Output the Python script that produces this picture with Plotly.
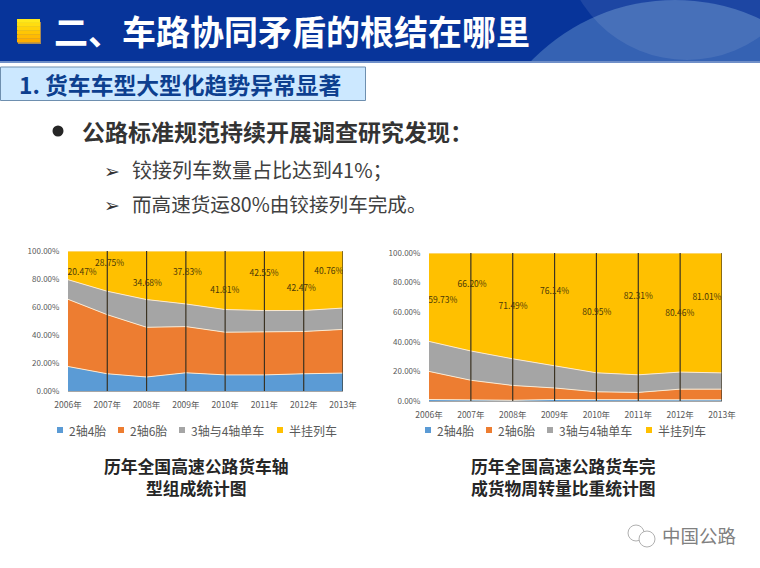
import plotly.graph_objects as go

W, H = 760, 568
FONT = "Noto Sans CJK SC"

years = [2006, 2007, 2008, 2009, 2010, 2011, 2012, 2013]
series_names = ["2轴4胎", "2轴6胎", "3轴与4轴单车", "半挂列车"]
series_colors = ["#5B9BD5", "#ED7D31", "#A5A5A5", "#FFC000"]
y_ticks = [0, 20, 40, 60, 80, 100]

left_s1 = [17.5, 12.3, 10.0, 13.0, 11.5, 11.5, 12.3, 12.8]
left_s2 = [48.0, 42.2, 35.5, 33.0, 30.5, 30.5, 30.2, 31.2]
left_s3 = [14.03, 16.75, 19.82, 16.17, 16.19, 15.45, 15.03, 15.24]
left_s4 = [20.47, 28.75, 34.68, 37.83, 41.81, 42.55, 42.47, 40.76]
left_label_x = [2006.36, 2007.06, 2008.02, 2009.04, 2009.99, 2010.99, 2011.94, 2012.64]
left_label_y = [84.7, 90.5, 76.8, 84.2, 71.8, 83.5, 72.8, 85.2]

right_s1 = [1.0, 0.8, 0.5, 1.0, 0.8, 0.7, 0.8, 0.8]
right_s2 = [19.0, 13.2, 10.0, 7.8, 5.4, 5.1, 7.2, 7.2]
right_s3 = [20.27, 19.8, 18.01, 15.06, 12.85, 11.89, 11.54, 10.99]
right_s4 = [59.73, 66.20, 71.49, 76.14, 80.95, 82.31, 80.46, 81.01]
right_label_x = [2006.33, 2007.03, 2008.01, 2009.0, 2010.01, 2011.0, 2011.99, 2012.64]
right_label_y = [67.9, 78.5, 63.3, 73.5, 59.3, 70.1, 59.0, 69.9]


def px(x):
    return x / W


def py(y):
    return 1 - y / H


fig = go.Figure()


def add_chart(xa, ya, data, label_x, label_y):
    for name, color, vals in zip(series_names, series_colors, data):
        fig.add_trace(go.Scatter(
            x=years, y=vals, name=name, mode="lines", stackgroup=xa,
            line=dict(color="#FBE9D0", width=1), fillcolor=color,
            xaxis=xa, yaxis=ya, showlegend=False, hoverinfo="x+y"))
    # dark vertical drop lines at each category
    vx, vy = [], []
    for yr in years[1:]:
        vx += [yr, yr, None]
        vy += [0, 100, None]
    fig.add_trace(go.Scatter(x=vx, y=vy, mode="lines", showlegend=False,
                             line=dict(color="#3A3222", width=1.2),
                             xaxis=xa, yaxis=ya, hoverinfo="skip"))
    fig.add_trace(go.Scatter(
        x=label_x, y=label_y, mode="text", showlegend=False,
        text=[f"{v:.2f}%" for v in data[3]], textposition="middle center",
        textfont=dict(family=FONT, size=8.5, color="#4A3808"),
        xaxis=xa, yaxis=ya, hoverinfo="skip"))


add_chart("x", "y", [left_s1, left_s2, left_s3, left_s4], left_label_x, left_label_y)
add_chart("x2", "y2", [right_s1, right_s2, right_s3, right_s4], right_label_x, right_label_y)

xcommon = dict(range=[2006, 2013], tickvals=years, ticktext=[f"{y}年" for y in years],
               showgrid=False, zeroline=False, showline=True, linecolor="#A6A6A6",
               linewidth=1, ticks="outside", ticklen=6, tickcolor="rgba(0,0,0,0)",
               automargin=False, tickfont=dict(family=FONT, size=8.5, color="#595959"))
ycommon = dict(range=[0, 100], tickvals=y_ticks, ticktext=[f"{v:.2f}%" for v in y_ticks],
               showgrid=False, zeroline=False, showline=False,
               ticks="outside", ticklen=6, tickcolor="rgba(0,0,0,0)",
               automargin=False, tickfont=dict(family=FONT, size=8, color="#595959"))

shapes = []


def rect(x0, y0, x1, y1, fill, line=None, lw=0):
    shapes.append(dict(type="rect", xref="paper", yref="paper", layer="below",
                       x0=px(x0), x1=px(x1), y0=py(y0), y1=py(y1), fillcolor=fill,
                       line=dict(color=line or fill, width=lw)))


def circle(cx, cy, r, fill, opacity=1.0, line=None, lw=0, layer="below"):
    shapes.append(dict(type="circle", xref="paper", yref="paper", layer=layer,
                       x0=px(cx - r), x1=px(cx + r), y0=py(cy - r), y1=py(cy + r),
                       fillcolor=fill, opacity=opacity,
                       line=dict(color=line or "rgba(0,0,0,0)", width=lw)))


# Header band with decorative arcs
rect(0, 0, W, 61, "#07349A")
circle(675, 200, 200, "#3562B3")
circle(687, -65, 125, "#FFFFFF", opacity=0.09)
rect(0, 61, W, 63, "#6F8FC8")
rect(0, 63, W, 420, "#FFFFFF")

# Yellow gradient square
band_cols = ["#FFE81A", "#FFDD10", "#FFD208", "#FFC604", "#FFBA02", "#FFAE00"]
rect(18, 22, 41, 44, "#A88A55")
for i, c in enumerate(band_cols):
    rect(17, 19 + i * 3.9, 40, 19 + (i + 1) * 3.9, c)

# Section box
rect(0.5, 67, 365.5, 100.5, "#CCE8FF", line="#6E8FAF", lw=1)

# Bullet
circle(58, 131, 5.5, "#262626")

annotations = []


def text(x, y, s, size, color, anchor="left", bold=False):
    annotations.append(dict(x=px(x), y=py(y), xref="paper", yref="paper",
                            text=f"<b>{s}</b>" if bold else s, showarrow=False,
                            xanchor=anchor, yanchor="middle",
                            font=dict(family=FONT, size=size, color=color)))


text(52, 31, "二、车路协同矛盾的根结在哪里", 34, "#FFFFFF", bold=True)
text(17, 85, "1. 货车车型大型化趋势异常显著", 22.8, "#0D3F8F", bold=True)
text(80, 131, "公路标准规范持续开展调查研究发现：", 23, "#333333", bold=True)
text(102, 169, "➢", 19, "#333333")
text(130, 169, "铰接列车数量占比达到41%；", 20, "#404040")
text(102, 203, "➢", 19, "#333333")
text(130, 203, "而高速货运80%由铰接列车完成。", 19.6, "#404040")
text(196, 477, "<b>历年全国高速公路货车轴</b><br><b>型组成统计图</b>", 16.8, "#262626", anchor="center")
text(563.5, 477, "<b>历年全国高速公路货车完</b><br><b>成货物周转量比重统计图</b>", 16.8, "#262626", anchor="center")
text(660, 535, "中国公路", 18.5, "#808080")

# Legends
legend_left = [57, 118, 179, 277]
legend_right = [425, 486, 547, 646]
for xs in (legend_left, legend_right):
    for x0, name, color in zip(xs, series_names, series_colors):
        rect(x0, 427, x0 + 6, 433, color)
        text(x0 + 9.5, 430, name, 12, "#595959")

# Watermark icon
circle(636, 533, 8, "#FFFFFF", line="#B0B0B0", lw=1)
circle(647, 539, 8, "#FFFFFF", line="#B0B0B0", lw=1)

fig.update_layout(
    width=W, height=H, autosize=False, margin=dict(l=0, r=0, t=0, b=0, autoexpand=False),
    paper_bgcolor="#FFFFFF", plot_bgcolor="rgba(0,0,0,0)", showlegend=False,
    shapes=shapes, annotations=annotations,
    xaxis=dict(domain=[px(68), px(343)], anchor="y", **xcommon),
    yaxis=dict(domain=[py(391), py(251)], anchor="x", **ycommon),
    xaxis2=dict(domain=[px(429), px(722)], anchor="y2", **xcommon),
    yaxis2=dict(domain=[py(401), py(253)], anchor="x2", **ycommon),
)

fig.write_html("out.html", config=dict(displayModeBar=False),
               post_script="document.body.style.margin='0';document.body.style.overflow='hidden';")
